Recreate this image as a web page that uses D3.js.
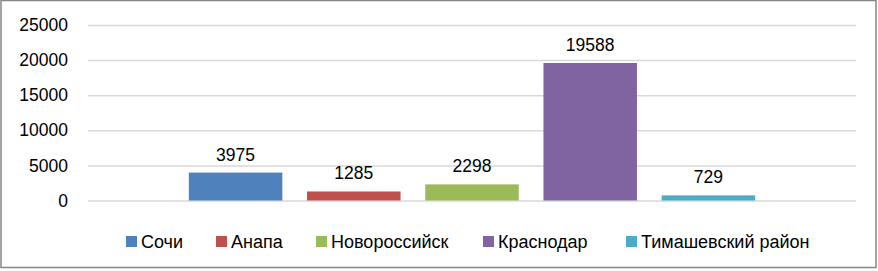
<!DOCTYPE html>
<html>
<head>
<meta charset="utf-8">
<script src="https://cdn.jsdelivr.net/npm/d3@7"></script>
<style>
  body{margin:0;background:#fff;}
  svg{display:block;font-family:"Liberation Sans",Arial,sans-serif;}
</style>
</head>
<body>
<div id="chart"></div>
<script>
var cities=["Сочи","Анапа","Новороссийск","Краснодар","Тимашевский район"];
var values=[3975,1285,2298,19588,729];
var colors=["#4F81BD","#C0504D","#9BBB59","#8064A2","#4BACC6"];
var yTicks=[0,5000,10000,15000,20000,25000];

var width=878;
var height=271;
var svg=d3.select("#chart")
    .append("svg")
    .attr("width",width)
    .attr("height",height);

// chart frame
svg.append("rect")
    .attr("x",1)
    .attr("y",0.5)
    .attr("width",875)
    .attr("height",267)
    .attr("fill","#fff")
    .attr("stroke","#868686")
    .attr("stroke-width",1.5);

var xScale=d3.scaleBand()
    .domain(cities)
    .range([88,856])
    .paddingInner(0.209)
    .paddingOuter(0.853);

var yScale=d3.scaleLinear()
    .domain([0,25000])
    .range([200.5,25]);

var yAxis=d3.axisLeft(yScale)
    .tickValues(yTicks)
    .tickSize(-(856-88))
    .tickPadding(20)
    .tickFormat(d3.format("d"));

var gy=svg.append("g")
    .attr("transform","translate(88,0)")
    .call(yAxis);
gy.select(".domain").remove();
gy.selectAll(".tick line").attr("stroke","#d9d9d9").attr("stroke-width",1.5);
gy.selectAll(".tick text")
    .attr("font-size",17.5)
    .attr("fill","#000")
    .attr("font-family","Liberation Sans,Arial,sans-serif");

svg.selectAll("rect.bar")
    .data(values)
    .enter()
    .append("rect")
    .attr("class","bar")
    .attr("x",function(d,i){return xScale(cities[i]);})
    .attr("y",function(d){return yScale(d);})
    .attr("width",xScale.bandwidth())
    .attr("height",function(d){return yScale(0)-yScale(d);})
    .attr("fill",function(d,i){return colors[i];});

svg.selectAll("text.lbl")
    .data(values)
    .enter()
    .append("text")
    .attr("class","lbl")
    .attr("text-anchor","middle")
    .attr("font-size",17.5)
    .attr("x",function(d,i){return xScale(cities[i])+xScale.bandwidth()/2;})
    .attr("y",function(d){return yScale(d)-12;})
    .text(function(d){return d;});

// legend
var legendX=[126,216,316,483,626];
var lg=svg.selectAll("g.leg")
    .data(cities)
    .enter()
    .append("g")
    .attr("class","leg")
    .attr("transform",function(d,i){return "translate("+legendX[i]+",236)";});
lg.append("rect")
    .attr("width",11)
    .attr("height",11)
    .attr("fill",function(d,i){return colors[i];});
lg.append("text")
    .attr("x",15)
    .attr("y",11.5)
    .attr("font-size",18)
    .text(function(d){return d;});
</script>
</body>
</html>
